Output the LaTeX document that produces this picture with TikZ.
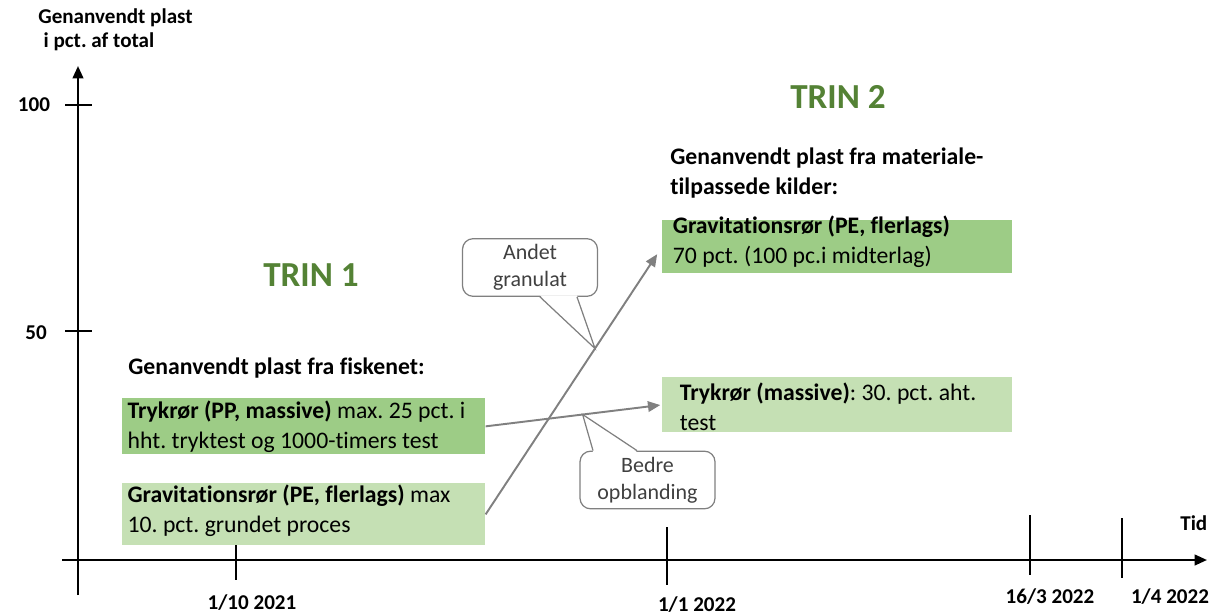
\documentclass[tikz,border=0pt]{standalone}
\usepackage{fontspec}
\setmainfont{Carlito}[Ligatures={NoCommon}]
\usepackage{tikz}
\usetikzlibrary{arrows.meta,calc}
\frenchspacing

\definecolor{trin}{RGB}{84,130,53}
\definecolor{dkgreen}{RGB}{157,204,134}
\definecolor{ltgreen}{RGB}{197,224,180}
\definecolor{flowgray}{RGB}{128,128,128}
\definecolor{txtgray}{RGB}{64,64,64}

\begin{document}
\begin{tikzpicture}[x=0.02cm,y=-0.02cm,
    axis/.style={line width=1.3pt,-{Triangle[length=7pt,width=6pt]}},
    tickline/.style={line width=1.3pt},
    lbl/.style={font=\fontsize{12}{14}\selectfont\bfseries},
    trintxt/.style={font=\fontsize{20}{24}\selectfont\bfseries,text=trin},
    head/.style={font=\fontsize{13.5}{17}\selectfont\bfseries,align=left,inner sep=0pt},
    boxtxt/.style={font=\fontsize{13.5}{17}\selectfont,align=left,inner sep=0pt,anchor=west},
    dkbox/.style={fill=dkgreen,inner sep=0pt,anchor=north west},
    ltbox/.style={fill=ltgreen,inner sep=0pt,anchor=north west},
    flow/.style={flowgray,line width=1.1pt,-{Triangle[length=7pt,width=6pt]}},
    callout/.style={draw=flowgray,fill=white,rounded corners=6pt,line width=0.7pt,
      minimum width=2.7cm,minimum height=1cm,align=center,text=txtgray,
      font=\fontsize{12.5}{15.3}\selectfont},
    calline/.style={draw=flowgray,line width=0.7pt}]
    \useasboundingbox (0,0) rectangle (1222,615);

    % axes
    \coordinate (ybot) at (78,595);
    \coordinate (ytop) at (78,66);
    \coordinate (xleft) at (62,560);
    \coordinate (xright) at (1207,560);
    \draw[axis] (ybot) -- (ytop);
    \draw[axis] (xleft) -- (xright);
    \node[lbl,align=left,anchor=north west,inner sep=0pt] (ylabel) at (38,8)
      {Genanvendt plast\\\hspace*{3pt}i pct. af total};
    \node[lbl,anchor=west,inner sep=0pt] (tid) at (1180,523) {Tid};

    % y ticks
    \draw[tickline] (65,105) -- (92,105);
    \draw[tickline] (65,331) -- (92,331);
    \node[lbl] (y100) at (34,105) {100};
    \node[lbl] (y50) at (36,333) {50};

    % x ticks
    \draw[tickline] (236,545) -- (236,580);
    \draw[tickline] (667,527) -- (667,585);
    \draw[tickline] (1030,515) -- (1030,575);
    \draw[tickline] (1122,518) -- (1122,578);
    \node[lbl] (d1) at (252,603) {1/10 2021};
    \node[lbl] (d2) at (697,605) {1/1 2022};
    \node[lbl] (d3) at (1050,597) {16/3 2022};
    \node[lbl] (d4) at (1170,597) {1/4 2022};

    % trin 1
    \node[trintxt] (trin1) at (311,275) {TRIN 1};
    \node[head,anchor=west] (fisk) at (128,368) {Genanvendt plast fra fiskenet:};
    \node[dkbox,minimum width=7.26cm,minimum height=1.12cm] (tryk1) at (122,398) {};
    \node[boxtxt] (tryk1txt) at ([xshift=3pt]tryk1.west)
      {\textbf{Trykrør (PP, massive)} max. 25 pct. i\\hht. tryktest og 1000-timers test};
    \node[ltbox,minimum width=7.26cm,minimum height=1.24cm] (grav1) at (122,483) {};
    \node[boxtxt] (grav1txt) at ([xshift=3pt,yshift=2pt]grav1.west)
      {\textbf{Gravitationsrør (PE, flerlags)} max\\10. pct. grundet proces};

    % trin 2
    \node[trintxt] (trin2) at (838,97) {TRIN 2};
    \node[head,anchor=west] (mat) at (670,173) {Genanvendt plast fra materiale-\\tilpassede kilder:};
    \node[dkbox,minimum width=7.0cm,minimum height=1.06cm] (grav2) at (662,220) {};
    \node[boxtxt] (grav2txt) at ([xshift=6pt,yshift=3pt]grav2.west)
      {\textbf{Gravitationsrør (PE, flerlags)}\\70 pct. (100 pc.i midterlag)};
    \node[ltbox,minimum width=7.0cm,minimum height=1.1cm] (tryk2) at (662,377) {};
    \node[boxtxt] (tryk2txt) at ([xshift=10pt,yshift=-1pt]tryk2.west)
      {\textbf{Trykrør (massive)}: 30. pct. aht.\\test};

    % callouts
    \coordinate (andettip) at ($(grav1.east)!0.62!(grav2.west)$);
    \coordinate (bedretip) at ($(tryk1.east)!0.55!(tryk2.west)$);
    \node[callout] (andet) at (530,267.5) {Andet\\granulat};
    \fill[white] ($(andet.south)+(10,-1.5)$) -- (andettip) -- ($(andet.south)+(47,-1.5)$) -- cycle;
    \draw[calline] ($(andet.south)+(10,0)$) -- (andettip) -- ($(andet.south)+(47,0)$);
    \node[callout] (bedre) at (647.5,480) {Bedre\\opblanding};
    \fill[white] ($(bedre.north)+(-54.5,1.5)$) -- (bedretip) -- ($(bedre.north)+(-10.5,1.5)$) -- cycle;
    \draw[calline] ($(bedre.north)+(-54.5,0)$) -- (bedretip) -- ($(bedre.north)+(-10.5,0)$);

    % arrows
    \draw[flow,shorten >=5pt] (grav1.east) -- (grav2.west);
    \draw[flow,shorten >=1pt] (tryk1.east) -- (tryk2.west);
\end{tikzpicture}
\end{document}
